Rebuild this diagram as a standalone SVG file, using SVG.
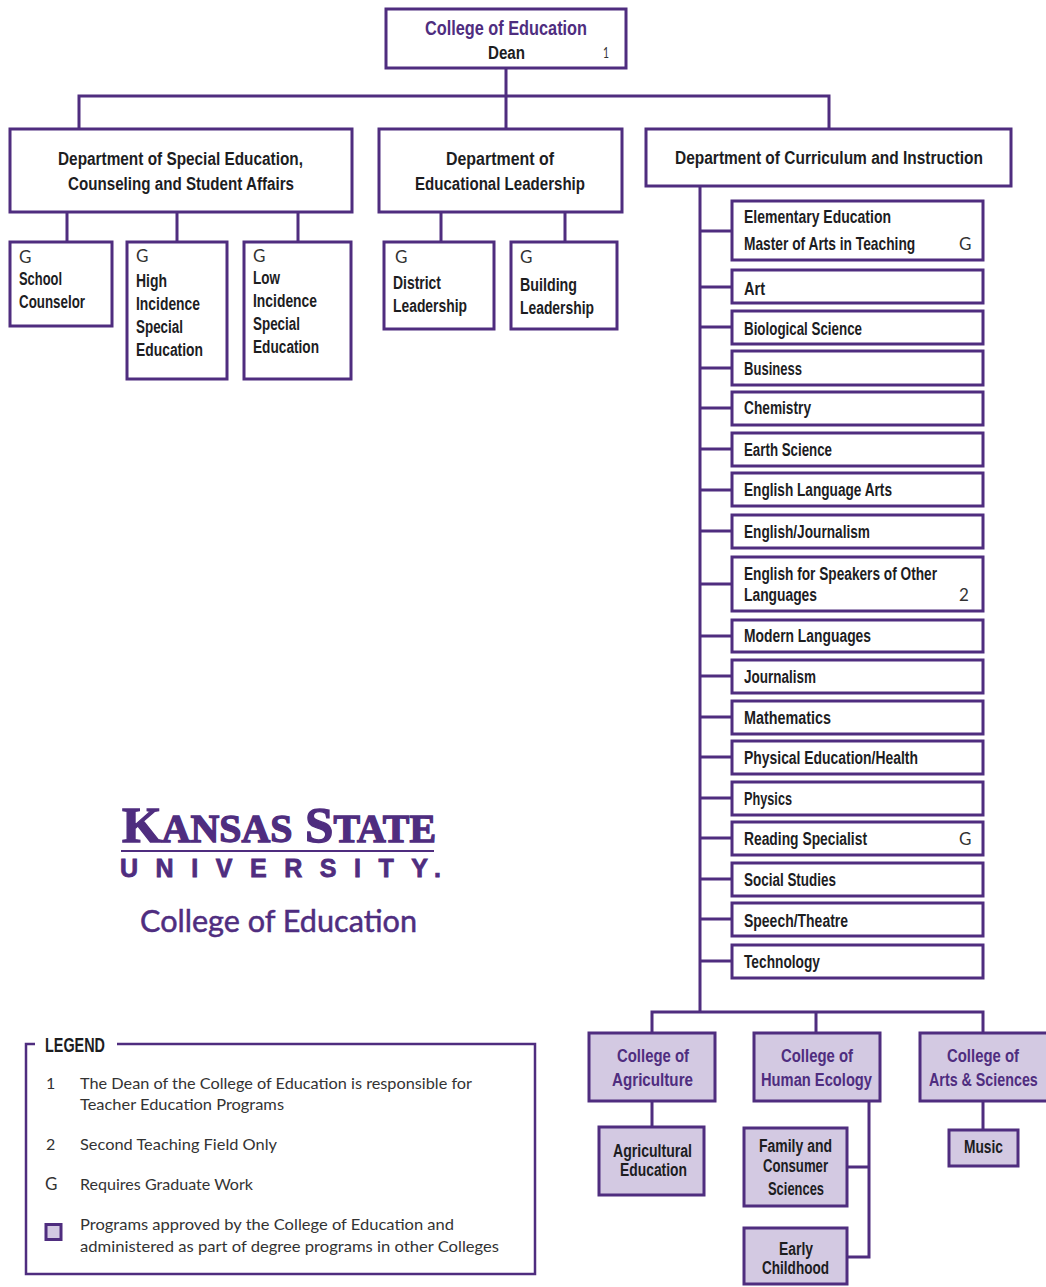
<svg xmlns="http://www.w3.org/2000/svg" width="1046" height="1287" viewBox="0 0 1046 1287">
<style>
text{font-family:"Liberation Sans",Arial,sans-serif;font-size:18px;font-weight:700;fill:#1d1d1f}
.b{fill:#fff;stroke:#4f2d7f;stroke-width:3}
.c{fill:#d3c9e2;stroke:#4f2d7f;stroke-width:3}
.p{fill:#4f2d7f}
.r{font-family:"Lato",sans-serif;font-weight:400;font-size:16px;fill:#333}
.g{font-family:"Lato",sans-serif;font-weight:400;font-size:17px;fill:#333}
.l{fill:none;stroke:#4f2d7f;stroke-width:3}
</style>
<rect width="1046" height="1287" fill="#fff"/>
<g id="connectors">
<path class="l" d="M506 68V129M79 129V96H829V129M67 212V242M177 212V242M298 212V242M441 212V242M565 212V242"/>
<path class="l" d="M700 186V1012M700 231H732M700 287H732M700 327H732M700 368H732M700 408H732M700 449H732M700 490H732M700 531H732M700 584H732M700 636H732M700 676H732M700 717H732M700 757H732M700 798H732M700 838H732M700 879H732M700 919H732M700 961H732"/>
<path class="l" d="M652 1033V1012H983V1033M816 1012V1033M652 1101V1127M983 1101V1130M869 1101V1257H847M847 1167H869"/>
</g>
<g id="dean"><rect class="b" x="386" y="9" width="240" height="59"/><text class="p" x="425" y="35" style="font-size:20px" textLength="162" lengthAdjust="spacingAndGlyphs">College of Education</text><text x="488" y="59" textLength="37" lengthAdjust="spacingAndGlyphs">Dean</text><text class="r" x="603" y="58" textLength="6" lengthAdjust="spacingAndGlyphs">1</text></g>
<g id="dept-special"><rect class="b" x="10" y="129" width="342" height="83"/><text x="58" y="165" textLength="245" lengthAdjust="spacingAndGlyphs">Department of Special Education,</text><text x="68" y="190" textLength="226" lengthAdjust="spacingAndGlyphs">Counseling and Student Affairs</text></g>
<g id="dept-leadership"><rect class="b" x="379" y="129" width="243" height="83"/><text x="446" y="165" textLength="108" lengthAdjust="spacingAndGlyphs">Department of</text><text x="415" y="190" textLength="170" lengthAdjust="spacingAndGlyphs">Educational Leadership</text></g>
<g id="dept-curriculum"><rect class="b" x="646" y="129" width="365" height="57"/><text x="675" y="164" textLength="308" lengthAdjust="spacingAndGlyphs">Department of Curriculum and Instruction</text></g>
<g id="school-counselor"><rect class="b" x="10" y="242" width="102" height="84"/><text class="g" x="19" y="263">G</text><text x="19" y="285" textLength="43" lengthAdjust="spacingAndGlyphs">School</text><text x="19" y="308" textLength="66" lengthAdjust="spacingAndGlyphs">Counselor</text></g>
<g id="high-incidence"><rect class="b" x="127" y="242" width="100" height="137"/><text class="g" x="136" y="262">G</text><text x="136" y="287" textLength="31" lengthAdjust="spacingAndGlyphs">High</text><text x="136" y="310" textLength="64" lengthAdjust="spacingAndGlyphs">Incidence</text><text x="136" y="333" textLength="47" lengthAdjust="spacingAndGlyphs">Special</text><text x="136" y="356" textLength="67" lengthAdjust="spacingAndGlyphs">Education</text></g>
<g id="low-incidence"><rect class="b" x="244" y="242" width="107" height="137"/><text class="g" x="253" y="262">G</text><text x="253" y="284" textLength="27" lengthAdjust="spacingAndGlyphs">Low</text><text x="253" y="307" textLength="64" lengthAdjust="spacingAndGlyphs">Incidence</text><text x="253" y="330" textLength="47" lengthAdjust="spacingAndGlyphs">Special</text><text x="253" y="353" textLength="66" lengthAdjust="spacingAndGlyphs">Education</text></g>
<g id="district"><rect class="b" x="384" y="242" width="110" height="87"/><text class="g" x="395" y="263">G</text><text x="393" y="289" textLength="48" lengthAdjust="spacingAndGlyphs">District</text><text x="393" y="312" textLength="74" lengthAdjust="spacingAndGlyphs">Leadership</text></g>
<g id="building"><rect class="b" x="511" y="242" width="106" height="87"/><text class="g" x="520" y="263">G</text><text x="520" y="291" textLength="57" lengthAdjust="spacingAndGlyphs">Building</text><text x="520" y="314" textLength="74" lengthAdjust="spacingAndGlyphs">Leadership</text></g>
<g id="elementary"><rect class="b" x="732" y="201" width="251" height="59"/><text x="744" y="223" textLength="147" lengthAdjust="spacingAndGlyphs">Elementary Education</text><text transform="translate(744 250) scale(.8 1)" x="0" y="0" textLength="214" lengthAdjust="spacingAndGlyphs">Master of Arts in Teaching</text><text class="g" x="959" y="250">G</text></g>
<g id="art"><rect class="b" x="732" y="270" width="251" height="33"/><text x="744" y="295" textLength="21" lengthAdjust="spacingAndGlyphs">Art</text></g>
<g id="biological"><rect class="b" x="732" y="311" width="251" height="33"/><text x="744" y="335" textLength="118" lengthAdjust="spacingAndGlyphs">Biological Science</text></g>
<g id="business"><rect class="b" x="732" y="351" width="251" height="34"/><text x="744" y="375" textLength="58" lengthAdjust="spacingAndGlyphs">Business</text></g>
<g id="chemistry"><rect class="b" x="732" y="392" width="251" height="33"/><text x="744" y="414" textLength="67" lengthAdjust="spacingAndGlyphs">Chemistry</text></g>
<g id="earth"><rect class="b" x="732" y="433" width="251" height="33"/><text x="744" y="456" textLength="88" lengthAdjust="spacingAndGlyphs">Earth Science</text></g>
<g id="ela"><rect class="b" x="732" y="473" width="251" height="33"/><text x="744" y="496" textLength="148" lengthAdjust="spacingAndGlyphs">English Language Arts</text></g>
<g id="english-journalism"><rect class="b" x="732" y="515" width="251" height="33"/><text x="744" y="538" textLength="126" lengthAdjust="spacingAndGlyphs">English/Journalism</text></g>
<g id="esol"><rect class="b" x="732" y="557" width="251" height="54"/><text x="744" y="580" textLength="193" lengthAdjust="spacingAndGlyphs">English for Speakers of Other</text><text x="744" y="601" textLength="73" lengthAdjust="spacingAndGlyphs">Languages</text><text class="g" x="959" y="601">2</text></g>
<g id="modern"><rect class="b" x="732" y="620" width="251" height="32"/><text x="744" y="642" textLength="127" lengthAdjust="spacingAndGlyphs">Modern Languages</text></g>
<g id="journalism"><rect class="b" x="732" y="660" width="251" height="33"/><text x="744" y="683" textLength="72" lengthAdjust="spacingAndGlyphs">Journalism</text></g>
<g id="mathematics"><rect class="b" x="732" y="701" width="251" height="33"/><text x="744" y="724" textLength="87" lengthAdjust="spacingAndGlyphs">Mathematics</text></g>
<g id="pe"><rect class="b" x="732" y="741" width="251" height="33"/><text x="744" y="764" textLength="174" lengthAdjust="spacingAndGlyphs">Physical Education/Health</text></g>
<g id="physics"><rect class="b" x="732" y="782" width="251" height="33"/><text x="744" y="805" textLength="48" lengthAdjust="spacingAndGlyphs">Physics</text></g>
<g id="reading"><rect class="b" x="732" y="822" width="251" height="33"/><text x="744" y="845" textLength="123" lengthAdjust="spacingAndGlyphs">Reading Specialist</text><text class="g" x="959" y="845">G</text></g>
<g id="social"><rect class="b" x="732" y="863" width="251" height="33"/><text x="744" y="886" textLength="92" lengthAdjust="spacingAndGlyphs">Social Studies</text></g>
<g id="speech"><rect class="b" x="732" y="903" width="251" height="33"/><text x="744" y="927" textLength="104" lengthAdjust="spacingAndGlyphs">Speech/Theatre</text></g>
<g id="technology"><rect class="b" x="732" y="945" width="251" height="33"/><text x="744" y="968" textLength="76" lengthAdjust="spacingAndGlyphs">Technology</text></g>
<g id="college-ag"><rect class="c" x="589" y="1033" width="126" height="68"/><text class="p" x="617" y="1062" textLength="72" lengthAdjust="spacingAndGlyphs">College of</text><text class="p" x="612" y="1086" textLength="81" lengthAdjust="spacingAndGlyphs">Agriculture</text></g>
<g id="college-he"><rect class="c" x="754" y="1033" width="126" height="68"/><text class="p" x="781" y="1062" textLength="72" lengthAdjust="spacingAndGlyphs">College of</text><text class="p" x="761" y="1086" textLength="111" lengthAdjust="spacingAndGlyphs">Human Ecology</text></g>
<g id="college-as"><rect class="c" x="920" y="1033" width="128" height="68"/><text class="p" x="947" y="1062" textLength="72" lengthAdjust="spacingAndGlyphs">College of</text><text class="p" transform="translate(929 1086) scale(.8 1)" x="0" y="0" textLength="136" lengthAdjust="spacingAndGlyphs">Arts &amp; Sciences</text></g>
<g id="ag-ed"><rect class="c" x="599" y="1127" width="105" height="68"/><text x="613" y="1157" textLength="79" lengthAdjust="spacingAndGlyphs">Agricultural</text><text x="620" y="1176" textLength="67" lengthAdjust="spacingAndGlyphs">Education</text></g>
<g id="fcs"><rect class="c" x="744" y="1128" width="103" height="78"/><text x="759" y="1152" textLength="73" lengthAdjust="spacingAndGlyphs">Family and</text><text x="763" y="1172" textLength="65" lengthAdjust="spacingAndGlyphs">Consumer</text><text x="768" y="1195" textLength="56" lengthAdjust="spacingAndGlyphs">Sciences</text></g>
<g id="early"><rect class="c" x="744" y="1228" width="103" height="56"/><text x="779" y="1255" textLength="34" lengthAdjust="spacingAndGlyphs">Early</text><text x="762" y="1274" textLength="67" lengthAdjust="spacingAndGlyphs">Childhood</text></g>
<g id="music"><rect class="c" x="949" y="1130" width="69" height="36"/><text x="964" y="1153" textLength="39" lengthAdjust="spacingAndGlyphs">Music</text></g>
<g id="logo">
<text class="p" x="122" y="842" stroke="#4f2d7f" stroke-width="1.3" style="font-family:'Liberation Serif',serif;font-size:50px" textLength="314" lengthAdjust="spacingAndGlyphs">K<tspan style="font-size:39px">ANSAS</tspan> S<tspan style="font-size:39px">TATE</tspan></text>
<rect class="p" x="121" y="850" width="313" height="2"/>
<text class="p" x="120" y="877" stroke="#4f2d7f" stroke-width=".8" style="font-size:25px" textLength="308" lengthAdjust="spacing">UNIVERSITY</text>
<text class="p" x="434" y="877" stroke="#4f2d7f" stroke-width=".8" style="font-size:25px">.</text>
<text class="p" x="140" y="932" stroke="#4f2d7f" stroke-width=".5" style="font-family:'Lato',sans-serif;font-weight:400;font-size:31px" textLength="277" lengthAdjust="spacingAndGlyphs">College of Education</text>
</g>
<g id="legend">
<path fill="none" stroke="#4f2d7f" stroke-width="2.5" d="M35 1044H26V1274H535V1044H117"/>
<text x="45" y="1052" style="font-size:20px" textLength="60" lengthAdjust="spacingAndGlyphs">LEGEND</text>
<text class="r" x="46" y="1089">1</text><text class="r" x="80" y="1089" textLength="392" lengthAdjust="spacingAndGlyphs">The Dean of the College of Education is responsible for</text><text class="r" x="80" y="1110" textLength="204" lengthAdjust="spacingAndGlyphs">Teacher Education Programs</text>
<text class="r" x="46" y="1150">2</text><text class="r" x="80" y="1150" textLength="197" lengthAdjust="spacingAndGlyphs">Second Teaching Field Only</text>
<text class="g" x="45" y="1190">G</text><text class="r" x="80" y="1190" textLength="173" lengthAdjust="spacingAndGlyphs">Requires Graduate Work</text>
<rect class="c" x="46" y="1224.5" width="15" height="15"/>
<text class="r" x="80" y="1230" textLength="374" lengthAdjust="spacingAndGlyphs">Programs approved by the College of Education and</text><text class="r" x="80" y="1252" textLength="419" lengthAdjust="spacingAndGlyphs">administered as part of degree programs in other Colleges</text>
</g>
</svg>
